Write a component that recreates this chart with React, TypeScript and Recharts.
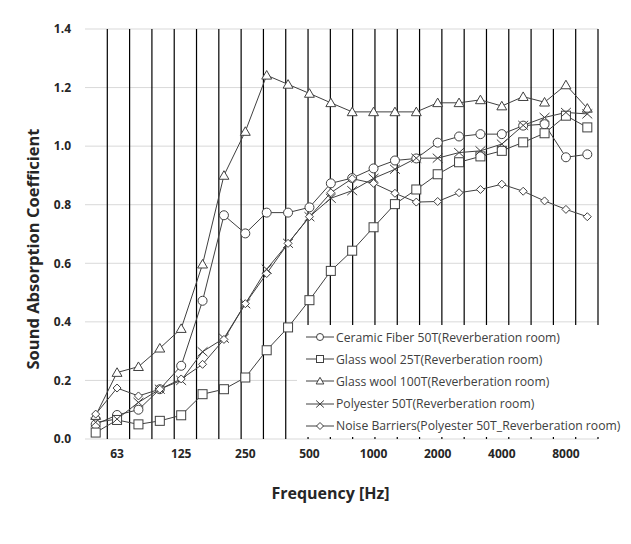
import React from 'react';
import { LineChart, Line, XAxis, YAxis, CartesianGrid, ReferenceLine, ReferenceArea, Legend } from 'recharts';

// 1/3 octave bands
const frequencies = ['50', '63', '80', '100', '125', '160', '200', '250', '315', '400', '500', '630', '800', '1000', '1250', '1600', '2000', '2500', '3150', '4000', '5000', '6300', '8000', '10000'];
const octaveLabels = ['63', '125', '250', '500', '1000', '2000', '4000', '8000'];
const yTicks = [0, 0.2, 0.4, 0.6, 0.8, 1.0, 1.2, 1.4];

const ceramicFiber50 = [0.05, 0.082, 0.1, 0.17, 0.25, 0.472, 0.764, 0.702, 0.773, 0.773, 0.791, 0.873, 0.891, 0.924, 0.951, 0.958, 1.012, 1.033, 1.041, 1.041, 1.07, 1.075, 0.962, 0.972];
const glassWool25 = [0.022, 0.065, 0.05, 0.062, 0.081, 0.153, 0.17, 0.21, 0.303, 0.381, 0.474, 0.574, 0.643, 0.723, 0.802, 0.852, 0.904, 0.945, 0.965, 0.984, 1.013, 1.044, 1.104, 1.064];
const glassWool100 = [0.08, 0.227, 0.247, 0.31, 0.377, 0.597, 0.9, 1.05, 1.242, 1.211, 1.18, 1.148, 1.117, 1.117, 1.117, 1.117, 1.148, 1.148, 1.158, 1.137, 1.169, 1.15, 1.209, 1.129];
const polyester50 = [0.057, 0.068, 0.125, 0.17, 0.2, 0.298, 0.344, 0.462, 0.58, 0.668, 0.759, 0.822, 0.848, 0.89, 0.921, 0.959, 0.959, 0.978, 0.984, 1.007, 1.071, 1.098, 1.115, 1.11];
const noiseBarriers = [0.085, 0.174, 0.147, 0.17, 0.205, 0.255, 0.34, 0.462, 0.565, 0.668, 0.759, 0.841, 0.889, 0.873, 0.839, 0.809, 0.811, 0.841, 0.852, 0.87, 0.846, 0.813, 0.784, 0.759];

type Shape = 'circle' | 'square' | 'triangle' | 'cross' | 'diamond';

const series: { key: string; name: string; shape: Shape; values: number[] }[] = [
  { key: 'ceramic', name: 'Ceramic Fiber 50T(Reverberation room)', shape: 'circle', values: ceramicFiber50 },
  { key: 'glass25', name: 'Glass wool 25T(Reverberation room)', shape: 'square', values: glassWool25 },
  { key: 'glass100', name: 'Glass wool 100T(Reverberation room)', shape: 'triangle', values: glassWool100 },
  { key: 'poly50', name: 'Polyester 50T(Reverberation room)', shape: 'cross', values: polyester50 },
  { key: 'noise', name: 'Noise Barriers(Polyester 50T_Reverberation room)', shape: 'diamond', values: noiseBarriers },
];

const data = frequencies.map((freq, i) => {
  const row: Record<string, string | number> = { freq };
  series.forEach((s) => (row[s.key] = s.values[i]));
  return row;
});

const gridBounds = Array.from({ length: frequencies.length - 1 }, (_, i) => i + 1);

const INK = '#404040';
const FONT = '"Open Sans", sans-serif';

const Marker = ({ shape, cx, cy, s }: { shape: Shape; cx: number; cy: number; s: number }) => {
  const h = s / 2;
  switch (shape) {
    case 'circle':
      return <circle cx={cx} cy={cy} r={h} fill="#fff" stroke={INK} />;
    case 'square':
      return <rect x={cx - h} y={cy - h} width={s} height={s} fill="#fff" stroke={INK} />;
    case 'triangle':
      return (
        <polygon
          points={`${cx},${cy - h * 1.05} ${cx + h * 1.1},${cy + h * 0.85} ${cx - h * 1.1},${cy + h * 0.85}`}
          fill="#fff"
          stroke={INK}
        />
      );
    case 'cross':
      return (
        <path
          d={`M${cx - h * 1.1},${cy - h} L${cx + h * 1.1},${cy + h} M${cx + h * 1.1},${cy - h} L${cx - h * 1.1},${cy + h}`}
          stroke={INK}
          fill="none"
        />
      );
    default:
      return (
        <polygon
          points={`${cx},${cy - h} ${cx + h},${cy} ${cx},${cy + h} ${cx - h},${cy}`}
          fill="#fff"
          stroke={INK}
        />
      );
  }
};

const makeDot = (shape: Shape, s: number) => (props: any) => {
  const { cx, cy, index } = props;
  if (cx == null || cy == null) return <g key={index} />;
  return (
    <g key={`${shape}-${index}`}>
      <Marker shape={shape} cx={cx} cy={cy} s={s} />
    </g>
  );
};

const dotSize: Record<Shape, number> = { circle: 9, square: 9, triangle: 9, cross: 9, diamond: 8 };

const LegendBox = () => (
  <div style={{ background: '#fff', paddingTop: 1, paddingLeft: 9, fontFamily: FONT, fontSize: 12.2, color: INK }}>
    {series.map((s) => (
      <div key={s.key} style={{ display: 'flex', alignItems: 'center', height: 22.2 }}>
        <svg width={28} height={12} style={{ flex: 'none' }}>
          <line x1={0} y1={6} x2={28} y2={6} stroke={INK} />
          <Marker shape={s.shape} cx={14} cy={6} s={7} />
        </svg>
        <span style={{ marginLeft: 2, whiteSpace: 'nowrap' }}>{s.name}</span>
      </div>
    ))}
  </div>
);

const YTitle = (props: any) => {
  const vb = props.viewBox;
  const x = vb.x + 32;
  const y = vb.y + vb.height / 2 + 15;
  return (
    <text
      x={x}
      y={y}
      transform={`rotate(-90 ${x} ${y})`}
      textAnchor="middle"
      dominantBaseline="central"
      style={{ fontFamily: FONT, fontSize: 16.5, fontWeight: 700, fill: '#262626' }}
    >
      Sound Absorption Coefficient
    </text>
  );
};

const XTitle = (props: any) => {
  const vb = props.viewBox;
  return (
    <text
      x={vb.x + vb.width / 2 - 11}
      y={vb.y + 54}
      textAnchor="middle"
      dominantBaseline="central"
      style={{ fontFamily: FONT, fontSize: 16, fontWeight: 700, fill: '#262626' }}
    >
      Frequency [Hz]
    </text>
  );
};

const tickStyle = { fontFamily: FONT, fontSize: 12, fontWeight: 700, fill: '#262626' };

export default function App() {
  return (
    <div style={{ position: 'absolute', left: 0, top: 0, background: '#fff' }}>
      <LineChart width={631} height={544} data={data} margin={{ top: 29, right: 33, left: 0, bottom: 39 }}>
        <CartesianGrid vertical={false} stroke="#d9d9d9" />
        <XAxis
          dataKey="freq"
          height={66}
          interval={0}
          padding={{ left: 10.69, right: 10.69 }}
          tickLine={false}
          axisLine={false}
          tickSize={6}
          tickMargin={4}
          tick={tickStyle}
          tickFormatter={(f: string) => (octaveLabels.includes(f) ? f : '')}
          label={<XTitle />}
        />
        <XAxis xAxisId="grid" type="number" domain={[0, frequencies.length]} hide />
        <YAxis
          width={85}
          domain={[0, 1.4]}
          ticks={yTicks}
          tickLine={false}
          axisLine={false}
          tickSize={6}
          tickMargin={8}
          tick={tickStyle}
          tickFormatter={(v: number) => v.toFixed(1)}
          label={<YTitle />}
        />
        {gridBounds.map((b) => (
          <ReferenceLine key={b} xAxisId="grid" x={b} stroke="#000" strokeWidth={1.2} />
        ))}
        <ReferenceArea
          xAxisId="grid"
          x1={0}
          x2={frequencies.length}
          y1={0}
          y2={1.4}
          fill="#fff"
          fillOpacity={0}
          stroke="#bfbfbf"
        />
        {series.map((s) => (
          <Line
            key={s.key}
            dataKey={s.key}
            name={s.name}
            stroke={INK}
            strokeWidth={1}
            dot={makeDot(s.shape, dotSize[s.shape])}
            activeDot={false}
            isAnimationActive={false}
          />
        ))}
        <Legend
          layout="vertical"
          align="center"
          verticalAlign="middle"
          content={<LegendBox />}
          wrapperStyle={{ left: 297, top: 325, width: 334, height: 108 }}
        />
      </LineChart>
    </div>
  );
}
